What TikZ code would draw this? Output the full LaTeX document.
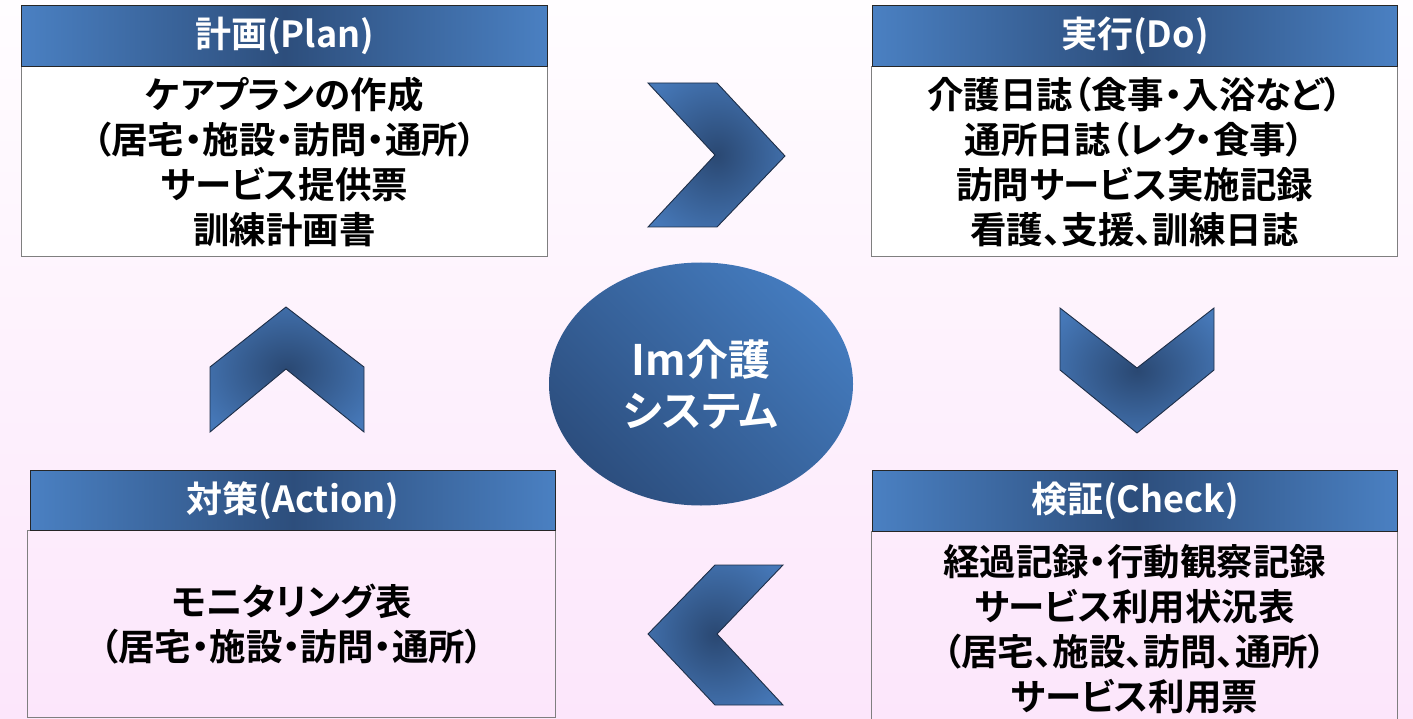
\documentclass[tikz,border=0pt]{standalone}
\usepackage{fontspec}
\setmainfont{Noto Sans CJK JP}[BoldFont={* Bold}, RawFeature=+palt]
\usetikzlibrary{shapes.geometric}
\definecolor{bgtop}{HTML}{FFFDFF}
\definecolor{bgbot}{HTML}{FCE6FB}
\definecolor{hlight}{HTML}{4A80C2}
\definecolor{hdark}{HTML}{2D4E7C}
\definecolor{cdark}{HTML}{2A4872}
\definecolor{clight}{HTML}{4678B8}
\definecolor{elight}{HTML}{447BBE}
\definecolor{edark}{HTML}{2C4E7E}
\definecolor{boxline}{HTML}{7F7F7F}
\definecolor{chevline}{HTML}{1E2F48}
\pgfdeclareradialshading{chevshade}{\pgfpoint{0bp}{0bp}}{color(0bp)=(cdark); color(32bp)=(clight); color(50bp)=(clight)}
\tikzset{
  hdr/.style={draw=black!85, line width=1pt, left color=hlight, right color=hlight, middle color=hdark,
    text=white, font=\bfseries\fontsize{36}{40}\selectfont, inner sep=0pt, anchor=north west,
    minimum height=61pt},
  bodybox/.style={draw=boxline, line width=1.4pt, align=center, text=black,
    font=\bfseries\fontsize{36.5}{45}\selectfont, inner sep=0pt, anchor=north west},
  chev/.style={shading=chevshade, draw=chevline, line width=0.9pt, line join=miter},
}
\begin{document}
\begin{tikzpicture}[x=1pt,y=-1pt]
\useasboundingbox (0,0) rectangle (1413,719);
\clip (0,0) rectangle (1413,719);
\shade[top color=bgtop, bottom color=bgbot] (0,0) rectangle (1413,719);

% Plan
\node[bodybox, fill=white, minimum width=526pt, minimum height=190pt] (planb) at (21,66)
  {ケアプランの作成\\（居宅・施設・訪問・通所）\\サービス提供票\\訓練計画書};
\node[hdr, minimum width=526pt] (planh) at (21,5) {計画(Plan)};

% Do
\node[bodybox, fill=white, minimum width=526pt, minimum height=190pt] (dob) at (871,66)
  {介護日誌（食事・入浴など）\\通所日誌（レク・食事）\\訪問サービス実施記録\\看護、支援、訓練日誌};
\node[hdr, minimum width=525pt] (doh) at (872,5) {実行(Do)};

% Action
\node[bodybox, minimum width=528pt, minimum height=187pt] (actb) at (27,530)
  {モニタリング表\\（居宅・施設・訪問・通所）};
\node[hdr, minimum width=525pt, minimum height=60pt] (acth) at (30,470) {対策(Action)};

% Check
\node[bodybox, minimum width=526pt, minimum height=194pt] (chkb) at (871,531)
  {経過記録・行動観察記録\\サービス利用状況表\\（居宅、施設、訪問、通所）\\サービス利用票};
\node[hdr, minimum width=525pt] (chkh) at (872,470) {検証(Check)};

% Center ellipse
\node[ellipse, minimum width=304pt, minimum height=243pt, inner sep=0pt,
  top color=elight, bottom color=edark, shading angle=-45, text=white, align=center,
  font=\bfseries\fontsize{42}{51}\selectfont] (core) at (701,384) {Im介護\\システム};

% Chevrons
\path[chev] (648,83) -- (717,83) -- (785,156) -- (717,227) -- (648,227) -- (715,155) -- cycle;
\path[chev] (1060,308) -- (1137,368) -- (1214,308) -- (1214,370) -- (1137,433) -- (1060,370) -- cycle;
\path[chev] (715,565) -- (783,565) -- (717,634) -- (783,705) -- (715,705) -- (648,634) -- cycle;
\path[chev] (286,307) -- (364,367) -- (364,432) -- (286,369) -- (210,432) -- (210,367) -- cycle;
\end{tikzpicture}
\end{document}
